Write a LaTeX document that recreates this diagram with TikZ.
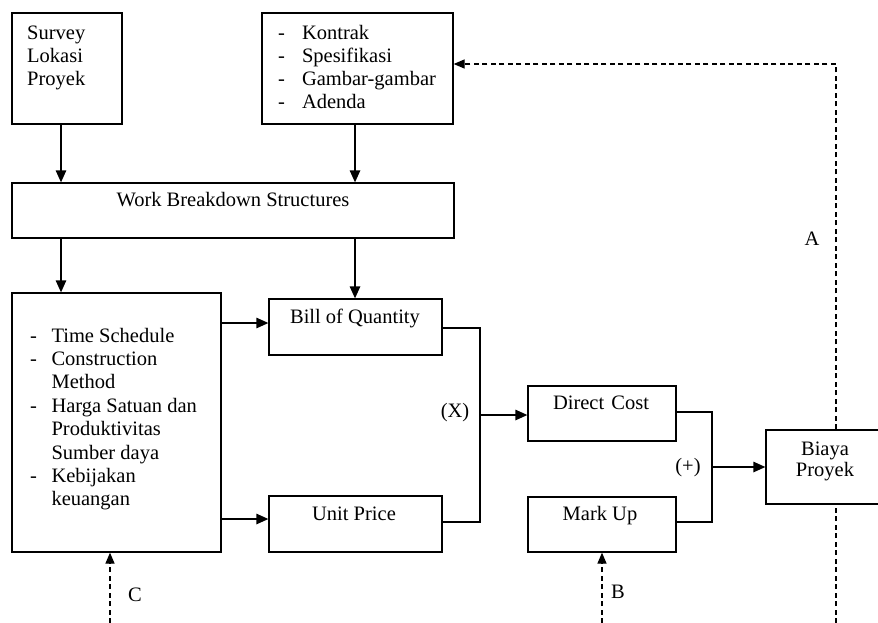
\documentclass[tikz,border=0pt]{standalone}
\usepackage{fontspec}
\setmainfont{Liberation Serif}
\usetikzlibrary{arrows.meta}
\begin{document}
\begin{tikzpicture}[x=1pt,y=-1pt,
  box/.style={draw,line width=1.3pt,inner sep=0pt,rectangle},
  txt/.style={inner sep=0pt,font=\fontsize{20.5}{23}\selectfont},
  arr/.style={line width=1.3pt,-{Triangle[length=12pt,width=10.5pt]}},
  link/.style={line width=1.3pt},
  dline/.style={line width=1.3pt,dash pattern=on 5pt off 3.5pt},
  darr/.style={dline,-{Triangle[length=11pt,width=9pt]}}]
\useasboundingbox (0,0) rectangle (878,623);
% boxes
\node[box,minimum width=110,minimum height=111] (survey) at (67,68.5) {};
\node[box,minimum width=191,minimum height=111] (kontrak) at (357.5,68.5) {};
\node[box,minimum width=442,minimum height=55] (wbs) at (233,210.5) {};
\node[box,minimum width=209,minimum height=259] (left) at (116.5,422.5) {};
\node[box,minimum width=173,minimum height=56] (bill) at (355.5,327) {};
\node[box,minimum width=173,minimum height=56] (unit) at (355.5,524) {};
\node[box,minimum width=148,minimum height=55] (dc) at (602,413.5) {};
\node[box,minimum width=148,minimum height=55] (mark) at (602,524.5) {};
\node[box,minimum width=120,minimum height=74] (biaya) at (826,467) {};
% texts
\node[txt,anchor=north west] (tsurvey) at (27,22.9) {\begin{tabular}{@{}l@{}}Survey\\Lokasi\\Proyek\end{tabular}};
\node[txt,anchor=north west] (tkontrak) at (278,22.9) {\begin{tabular}{@{}l@{\hspace{17pt}}l@{}}-&Kontrak\\-&Spesifikasi\\-&Gambar-gambar\\-&Adenda\end{tabular}};
\node[txt,anchor=base] (twbs) at (233,206) {Work Breakdown Structures};
\node[txt,anchor=north west,font=\fontsize{20.5}{23.4}\selectfont] (tleft) at (30,325.6) {\begin{tabular}{@{}l@{\hspace{14.5pt}}l@{}}-&Time Schedule\\-&Construction\\&Method\\-&Harga Satuan dan\\&Produktivitas\\&Sumber daya\\-&Kebijakan\\&keuangan\end{tabular}};
\node[txt,anchor=base] (tbill) at (355,323) {Bill of Quantity};
\node[txt,anchor=base] (tunit) at (354,520) {Unit Price};
\node[txt,anchor=base] (tdc) at (601,409) {Direct\hspace{0.35em}Cost};
\node[txt,anchor=base] (tmark) at (600,520) {Mark Up};
\node[txt,anchor=north,font=\fontsize{20.5}{21}\selectfont] (tbiaya) at (825,440.3) {\begin{tabular}{@{}c@{}}Biaya\\Proyek\end{tabular}};
\node[txt] (lx) at (455,413) {(X)};
\node[txt] (lp) at (688,468) {(+)};
\node[txt] (la) at (812,239) {A};
\node[txt] (lb) at (618,592) {B};
\node[txt] (lc) at (135,595) {C};
% helper coordinates
\coordinate (xa) at (61,0);
\coordinate (xb) at (355,0);
\coordinate (r1) at (0,323);
\coordinate (r2) at (0,519);
\coordinate (j1a) at (480,328);
\coordinate (j1b) at (480,522);
\coordinate (j1) at (480,415);
\coordinate (j2a) at (712,412);
\coordinate (j2b) at (712,522);
\coordinate (j2) at (712,467);
\coordinate (xd) at (836,0);
\coordinate (top) at (836,64);
\coordinate (bd) at (836,623);
\coordinate (bb) at (602,623);
\coordinate (bc) at (110,623);
% connectors
\draw[arr] (survey.south -| xa) -- (wbs.north -| xa);
\draw[arr] (kontrak.south -| xb) -- (wbs.north -| xb);
\draw[arr] (wbs.south -| xa) -- (left.north -| xa);
\draw[arr] (wbs.south -| xb) -- (bill.north -| xb);
\draw[arr] (left.east |- r1) -- (bill.west |- r1);
\draw[arr] (left.east |- r2) -- (unit.west |- r2);
\draw[link] (bill.east |- j1a) -- (j1a) -- (j1b) -- (unit.east |- j1b);
\draw[arr] (j1) -- (dc.west |- j1);
\draw[link] (dc.east |- j2a) -- (j2a) -- (j2b) -- (mark.east |- j2b);
\draw[arr] (j2) -- (biaya.west |- j2);
\draw[dline] (bd) -- (biaya.south -| xd);
\draw[darr] (biaya.north -| xd) -- (top) -- (kontrak.east |- top);
\draw[darr] (bb) -- (mark.south);
\draw[darr] (bc) -- (left.south -| bc);
\end{tikzpicture}
\end{document}
